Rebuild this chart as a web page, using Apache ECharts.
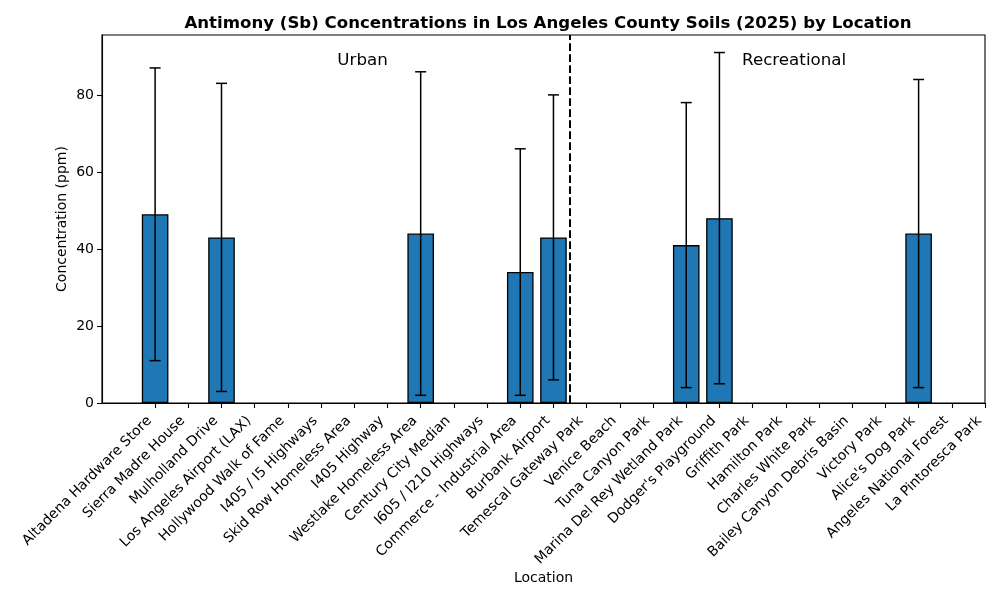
<!DOCTYPE html>
<html>
<head>
<meta charset="utf-8">
<script src="https://cdn.jsdelivr.net/npm/echarts@6/dist/echarts.min.js"></script>
<style>html,body{margin:0;padding:0;background:#fff}#c{width:1000px;height:600px}</style>
</head>
<body>
<div id="c"></div>
<script>
const locations = [
  "Altadena Hardware Store", "Sierra Madre House", "Mulholland Drive", "Los Angeles Airport (LAX)",
  "Hollywood Walk of Fame", "I405 / I5 Highways", "Skid Row Homeless Area", "I405 Highway",
  "Westlake Homeless Area", "Century City Median", "I605 / I210 Highways", "Commerce - Industrial Area",
  "Burbank Airport", "Temescal Gateway Park", "Venice Beach", "Tuna Canyon Park",
  "Marina Del Rey Wetland Park", "Dodger's Playground", "Griffith Park", "Hamilton Park",
  "Charles White Park", "Bailey Canyon Debris Basin", "Victory Park", "Alice's Dog Park",
  "Angeles National Forest", "La Pintoresca Park"
];
const concentration = [49, null, 43, null, null, null, null, null, 44, null, null, 34, 43,
  null, null, null, 41, 48, null, null, null, null, null, 44, null, null];
const errorSize = [38, null, 40, null, null, null, null, null, 42, null, null, 32, 37,
  null, null, null, 37, 43, null, null, null, null, null, 40, null, null];
const yTicks = [0, 20, 40, 60, 80];
const dividerX = 12.5;
const groupLabels = ["Urban", "Recreational"];
const groupLabelPos = [[6.25, 88.8], [19.25, 88.8]];

const xIdx = locations.map((_, i) => i);
const barData = [];
const errData = [];
concentration.forEach((v, i) => {
  if (v !== null) {
    barData.push([i, v]);
    errData.push([i, v - errorSize[i], v + errorSize[i]]);
  }
});

const FONT = "DejaVu Sans";
const chart = echarts.init(document.getElementById('c'), null, {renderer: 'canvas'});
chart.setOption({
  animation: false,
  backgroundColor: '#fff',
  textStyle: {fontFamily: FONT, color: '#000'},
  title: {
    text: 'Antimony (Sb) Concentrations in Los Angeles County Soils (2025) by Location',
    left: 543, top: 10, textAlign: 'center',
    textStyle: {fontFamily: FONT, fontWeight: 'bold', fontSize: 16.6, color: '#000'}
  },
  grid: {left: 102, right: 15, top: 35, bottom: 197, show: true, borderColor: '#000', borderWidth: 1.1, backgroundColor: 'transparent'},
  xAxis: {
    type: 'value', min: -1.6, max: 25,
    name: 'Location', nameLocation: 'middle', nameGap: 168, nameMoveOverlap: false,
    nameTextStyle: {fontFamily: FONT, fontSize: 14, color: '#000'},
    axisLine: {show: true, onZero: false, lineStyle: {color: '#000', width: 1.1}},
    axisTick: {show: true, inside: false, length: 5, lineStyle: {color: '#000', width: 1.1}, customValues: xIdx},
    axisLabel: {
      show: true, rotate: 45, margin: 10, padding: [0, 8, 0, 0], fontFamily: FONT, fontSize: 14, color: '#000',
      customValues: xIdx,
      formatter: v => locations[Math.round(v)] || ''
    },
    splitLine: {show: false}
  },
  yAxis: {
    type: 'value', min: 0, max: 95.55,
    name: 'Concentration (ppm)', nameLocation: 'middle', nameGap: 33, nameMoveOverlap: false,
    nameTextStyle: {fontFamily: FONT, fontSize: 14, color: '#000'},
    axisLine: {show: true, onZero: false, lineStyle: {color: '#000', width: 1.1}},
    axisTick: {show: true, inside: false, length: 5, lineStyle: {color: '#000', width: 1.1}, customValues: yTicks},
    axisLabel: {show: true, margin: 8, fontFamily: FONT, fontSize: 14, color: '#000', customValues: yTicks},
    splitLine: {show: false}
  },
  series: [
    {
      type: 'bar',
      data: barData,
      barWidth: 26.6,
      itemStyle: {color: '#1f77b4', borderColor: '#000', borderWidth: 1.3},
      markLine: {
        silent: true, symbol: 'none', label: {show: false},
        lineStyle: {color: '#000', type: [7.7, 3.3], width: 2},
        data: [{xAxis: dividerX}]
      },
      z: 2
    },
    {
      type: 'custom',
      data: errData,
      encode: {x: 0, y: [1, 2]},
      renderItem: function (params, api) {
        const x = api.value(0);
        const lo = api.coord([x, api.value(1)]);
        const hi = api.coord([x, api.value(2)]);
        const cap = 5.5;
        const style = {stroke: '#000', lineWidth: 1.5};
        return {
          type: 'group',
          children: [
            {type: 'line', shape: {x1: lo[0], y1: lo[1], x2: hi[0], y2: hi[1]}, style: style},
            {type: 'line', shape: {x1: lo[0] - cap, y1: lo[1], x2: lo[0] + cap, y2: lo[1]}, style: style},
            {type: 'line', shape: {x1: hi[0] - cap, y1: hi[1], x2: hi[0] + cap, y2: hi[1]}, style: style}
          ]
        };
      },
      z: 3
    },
    {
      type: 'custom',
      data: groupLabelPos.map((p, i) => [p[0], p[1], i]),
      encode: {x: 0, y: 1},
      silent: true,
      renderItem: function (params, api) {
        const pt = api.coord([api.value(0), api.value(1)]);
        return {
          type: 'text',
          x: pt[0], y: pt[1],
          style: {
            text: groupLabels[api.value(2)], fill: '#000', fontFamily: FONT, fontSize: 16.7,
            align: 'center', verticalAlign: 'middle'
          }
        };
      },
      z: 4
    }
  ]
});
</script>
</body>
</html>
